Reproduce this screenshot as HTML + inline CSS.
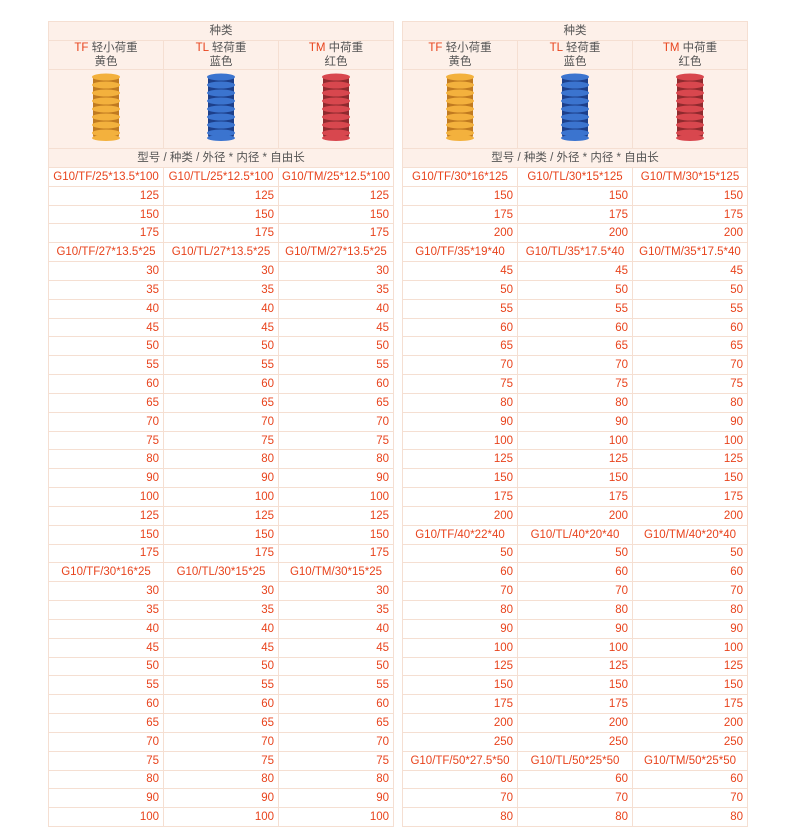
<!DOCTYPE html>
<html><head><meta charset="utf-8"><style>
body{margin:0;background:#fff;width:790px;height:840px;position:relative;font-family:"Liberation Sans","Noto Sans CJK SC",sans-serif;}
table{position:absolute;top:21px;border-collapse:collapse;table-layout:fixed;width:345px;font-size:11.5px;}
td{border:1px solid #f5dfd2;padding:0 4px;color:#e8431c;height:17.83px;line-height:16px;text-align:right;white-space:nowrap;overflow:hidden}
td.m{text-align:center;padding:0}
.h td{background:#fdf0e9;color:#555;text-align:center;padding:0}
.h .r{color:#e8431c}
.h2 td{height:28px;line-height:14px}
</style></head><body>
<table id="L" style="left:48px"><colgroup><col style="width:115px"><col style="width:115px"><col style="width:115px"></colgroup>
<tr class="h"><td colspan="3" style="height:18px">种类</td></tr>
<tr class="h h2"><td><span class="r">TF</span> 轻小荷重<br>黄色</td><td><span class="r">TL</span> 轻荷重<br>蓝色</td><td><span class="r">TM</span> 中荷重<br>红色</td></tr>
<tr class="h"><td style="height:78px"><svg width="34" height="70" viewBox="0 0 34 70"><rect x="4" y="3" width="26" height="64" rx="4" fill="#c07a20"/><g fill="#f3b13d"><ellipse cx="17" cy="5" rx="14" ry="3.5"/><ellipse cx="17" cy="13" rx="14" ry="3.5"/><ellipse cx="17" cy="21" rx="14" ry="3.5"/><ellipse cx="17" cy="29" rx="14" ry="3.5"/><ellipse cx="17" cy="37" rx="14" ry="3.5"/><ellipse cx="17" cy="45" rx="14" ry="3.5"/><ellipse cx="17" cy="53" rx="14" ry="3.5"/><ellipse cx="17" cy="61" rx="14" ry="3.5"/><ellipse cx="17" cy="66" rx="14" ry="3"/></g></svg></td>
<td><svg width="34" height="70" viewBox="0 0 34 70"><rect x="4" y="3" width="26" height="64" rx="4" fill="#1d3f8a"/><g fill="#3b74cf"><ellipse cx="17" cy="5" rx="14" ry="3.5"/><ellipse cx="17" cy="13" rx="14" ry="3.5"/><ellipse cx="17" cy="21" rx="14" ry="3.5"/><ellipse cx="17" cy="29" rx="14" ry="3.5"/><ellipse cx="17" cy="37" rx="14" ry="3.5"/><ellipse cx="17" cy="45" rx="14" ry="3.5"/><ellipse cx="17" cy="53" rx="14" ry="3.5"/><ellipse cx="17" cy="61" rx="14" ry="3.5"/><ellipse cx="17" cy="66" rx="14" ry="3"/></g></svg></td>
<td><svg width="34" height="70" viewBox="0 0 34 70"><rect x="4" y="3" width="26" height="64" rx="4" fill="#8e2a2e"/><g fill="#d8474e"><ellipse cx="17" cy="5" rx="14" ry="3.5"/><ellipse cx="17" cy="13" rx="14" ry="3.5"/><ellipse cx="17" cy="21" rx="14" ry="3.5"/><ellipse cx="17" cy="29" rx="14" ry="3.5"/><ellipse cx="17" cy="37" rx="14" ry="3.5"/><ellipse cx="17" cy="45" rx="14" ry="3.5"/><ellipse cx="17" cy="53" rx="14" ry="3.5"/><ellipse cx="17" cy="61" rx="14" ry="3.5"/><ellipse cx="17" cy="66" rx="14" ry="3"/></g></svg></td></tr>
<tr class="h"><td colspan="3" style="height:18px">型号 / 种类 / 外径 * 内径 * 自由长</td></tr>
<tr><td class="m">G10/TF/25*13.5*100</td><td class="m">G10/TL/25*12.5*100</td><td class="m">G10/TM/25*12.5*100</td></tr>
<tr><td>125</td><td>125</td><td>125</td></tr>
<tr><td>150</td><td>150</td><td>150</td></tr>
<tr><td>175</td><td>175</td><td>175</td></tr>
<tr><td class="m">G10/TF/27*13.5*25</td><td class="m">G10/TL/27*13.5*25</td><td class="m">G10/TM/27*13.5*25</td></tr>
<tr><td>30</td><td>30</td><td>30</td></tr>
<tr><td>35</td><td>35</td><td>35</td></tr>
<tr><td>40</td><td>40</td><td>40</td></tr>
<tr><td>45</td><td>45</td><td>45</td></tr>
<tr><td>50</td><td>50</td><td>50</td></tr>
<tr><td>55</td><td>55</td><td>55</td></tr>
<tr><td>60</td><td>60</td><td>60</td></tr>
<tr><td>65</td><td>65</td><td>65</td></tr>
<tr><td>70</td><td>70</td><td>70</td></tr>
<tr><td>75</td><td>75</td><td>75</td></tr>
<tr><td>80</td><td>80</td><td>80</td></tr>
<tr><td>90</td><td>90</td><td>90</td></tr>
<tr><td>100</td><td>100</td><td>100</td></tr>
<tr><td>125</td><td>125</td><td>125</td></tr>
<tr><td>150</td><td>150</td><td>150</td></tr>
<tr><td>175</td><td>175</td><td>175</td></tr>
<tr><td class="m">G10/TF/30*16*25</td><td class="m">G10/TL/30*15*25</td><td class="m">G10/TM/30*15*25</td></tr>
<tr><td>30</td><td>30</td><td>30</td></tr>
<tr><td>35</td><td>35</td><td>35</td></tr>
<tr><td>40</td><td>40</td><td>40</td></tr>
<tr><td>45</td><td>45</td><td>45</td></tr>
<tr><td>50</td><td>50</td><td>50</td></tr>
<tr><td>55</td><td>55</td><td>55</td></tr>
<tr><td>60</td><td>60</td><td>60</td></tr>
<tr><td>65</td><td>65</td><td>65</td></tr>
<tr><td>70</td><td>70</td><td>70</td></tr>
<tr><td>75</td><td>75</td><td>75</td></tr>
<tr><td>80</td><td>80</td><td>80</td></tr>
<tr><td>90</td><td>90</td><td>90</td></tr>
<tr><td>100</td><td>100</td><td>100</td></tr>
</table>
<table id="R" style="left:402px"><colgroup><col style="width:115px"><col style="width:115px"><col style="width:115px"></colgroup>
<tr class="h"><td colspan="3" style="height:18px">种类</td></tr>
<tr class="h h2"><td><span class="r">TF</span> 轻小荷重<br>黄色</td><td><span class="r">TL</span> 轻荷重<br>蓝色</td><td><span class="r">TM</span> 中荷重<br>红色</td></tr>
<tr class="h"><td style="height:78px"><svg width="34" height="70" viewBox="0 0 34 70"><rect x="4" y="3" width="26" height="64" rx="4" fill="#c07a20"/><g fill="#f3b13d"><ellipse cx="17" cy="5" rx="14" ry="3.5"/><ellipse cx="17" cy="13" rx="14" ry="3.5"/><ellipse cx="17" cy="21" rx="14" ry="3.5"/><ellipse cx="17" cy="29" rx="14" ry="3.5"/><ellipse cx="17" cy="37" rx="14" ry="3.5"/><ellipse cx="17" cy="45" rx="14" ry="3.5"/><ellipse cx="17" cy="53" rx="14" ry="3.5"/><ellipse cx="17" cy="61" rx="14" ry="3.5"/><ellipse cx="17" cy="66" rx="14" ry="3"/></g></svg></td>
<td><svg width="34" height="70" viewBox="0 0 34 70"><rect x="4" y="3" width="26" height="64" rx="4" fill="#1d3f8a"/><g fill="#3b74cf"><ellipse cx="17" cy="5" rx="14" ry="3.5"/><ellipse cx="17" cy="13" rx="14" ry="3.5"/><ellipse cx="17" cy="21" rx="14" ry="3.5"/><ellipse cx="17" cy="29" rx="14" ry="3.5"/><ellipse cx="17" cy="37" rx="14" ry="3.5"/><ellipse cx="17" cy="45" rx="14" ry="3.5"/><ellipse cx="17" cy="53" rx="14" ry="3.5"/><ellipse cx="17" cy="61" rx="14" ry="3.5"/><ellipse cx="17" cy="66" rx="14" ry="3"/></g></svg></td>
<td><svg width="34" height="70" viewBox="0 0 34 70"><rect x="4" y="3" width="26" height="64" rx="4" fill="#8e2a2e"/><g fill="#d8474e"><ellipse cx="17" cy="5" rx="14" ry="3.5"/><ellipse cx="17" cy="13" rx="14" ry="3.5"/><ellipse cx="17" cy="21" rx="14" ry="3.5"/><ellipse cx="17" cy="29" rx="14" ry="3.5"/><ellipse cx="17" cy="37" rx="14" ry="3.5"/><ellipse cx="17" cy="45" rx="14" ry="3.5"/><ellipse cx="17" cy="53" rx="14" ry="3.5"/><ellipse cx="17" cy="61" rx="14" ry="3.5"/><ellipse cx="17" cy="66" rx="14" ry="3"/></g></svg></td></tr>
<tr class="h"><td colspan="3" style="height:18px">型号 / 种类 / 外径 * 内径 * 自由长</td></tr>
<tr><td class="m">G10/TF/30*16*125</td><td class="m">G10/TL/30*15*125</td><td class="m">G10/TM/30*15*125</td></tr>
<tr><td>150</td><td>150</td><td>150</td></tr>
<tr><td>175</td><td>175</td><td>175</td></tr>
<tr><td>200</td><td>200</td><td>200</td></tr>
<tr><td class="m">G10/TF/35*19*40</td><td class="m">G10/TL/35*17.5*40</td><td class="m">G10/TM/35*17.5*40</td></tr>
<tr><td>45</td><td>45</td><td>45</td></tr>
<tr><td>50</td><td>50</td><td>50</td></tr>
<tr><td>55</td><td>55</td><td>55</td></tr>
<tr><td>60</td><td>60</td><td>60</td></tr>
<tr><td>65</td><td>65</td><td>65</td></tr>
<tr><td>70</td><td>70</td><td>70</td></tr>
<tr><td>75</td><td>75</td><td>75</td></tr>
<tr><td>80</td><td>80</td><td>80</td></tr>
<tr><td>90</td><td>90</td><td>90</td></tr>
<tr><td>100</td><td>100</td><td>100</td></tr>
<tr><td>125</td><td>125</td><td>125</td></tr>
<tr><td>150</td><td>150</td><td>150</td></tr>
<tr><td>175</td><td>175</td><td>175</td></tr>
<tr><td>200</td><td>200</td><td>200</td></tr>
<tr><td class="m">G10/TF/40*22*40</td><td class="m">G10/TL/40*20*40</td><td class="m">G10/TM/40*20*40</td></tr>
<tr><td>50</td><td>50</td><td>50</td></tr>
<tr><td>60</td><td>60</td><td>60</td></tr>
<tr><td>70</td><td>70</td><td>70</td></tr>
<tr><td>80</td><td>80</td><td>80</td></tr>
<tr><td>90</td><td>90</td><td>90</td></tr>
<tr><td>100</td><td>100</td><td>100</td></tr>
<tr><td>125</td><td>125</td><td>125</td></tr>
<tr><td>150</td><td>150</td><td>150</td></tr>
<tr><td>175</td><td>175</td><td>175</td></tr>
<tr><td>200</td><td>200</td><td>200</td></tr>
<tr><td>250</td><td>250</td><td>250</td></tr>
<tr><td class="m">G10/TF/50*27.5*50</td><td class="m">G10/TL/50*25*50</td><td class="m">G10/TM/50*25*50</td></tr>
<tr><td>60</td><td>60</td><td>60</td></tr>
<tr><td>70</td><td>70</td><td>70</td></tr>
<tr><td>80</td><td>80</td><td>80</td></tr>
</table>
</body></html>
